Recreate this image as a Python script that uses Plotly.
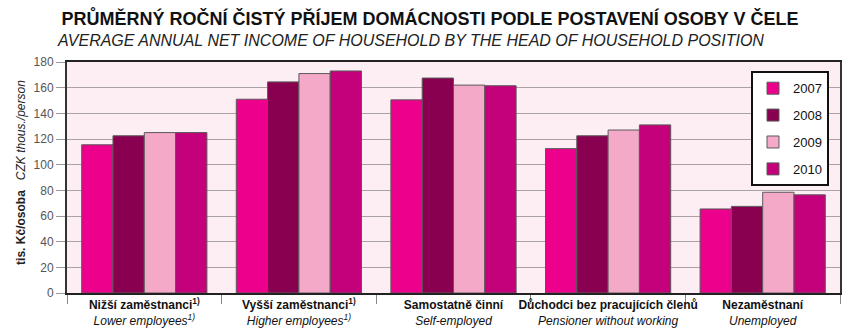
import plotly.graph_objects as go

categories_cz = ["Nižší zaměstnanci<sup>1)</sup>", "Vyšší zaměstnanci<sup>1)</sup>", "Samostatně činní",
                 "Důchodci bez pracujících členů", "Nezaměstnaní"]
categories_en = ["Lower employees<sup>1)</sup>", "Higher employees<sup>1)</sup>", "Self-employed",
                 "Pensioner without working", "Unemployed"]
years = ["2007", "2008", "2009", "2010"]
v2007 = [115.5, 151, 150.5, 112.5, 65.5]
v2008 = [122.5, 164.5, 167.5, 122.5, 67.5]
v2009 = [125, 171, 162, 127, 78.5]
v2010 = [125, 173, 161.5, 131, 76.5]
colors = ["#ec008c", "#8a0050", "#f5a9c9", "#c4007a"]
y_ticks = [0, 20, 40, 60, 80, 100, 120, 140, 160, 180]

cats = [f"c{i}" for i in range(len(categories_cz))]
ticktext = [f"<b>{cz}</b><br><i>{en}</i>" for cz, en in zip(categories_cz, categories_en)]

fig = go.Figure()
for yr, vals, col in zip(years, [v2007, v2008, v2009, v2010], colors):
    fig.add_trace(go.Bar(x=cats, y=vals, name=yr, legendgroup=yr,
                         marker=dict(color=col, line=dict(color="#5a5a5a", width=1))))

fig.update_layout(
    width=850, height=336,
    margin=dict(l=67, r=10, t=62, b=43, autoexpand=False),
    paper_bgcolor="white", plot_bgcolor="#fdeef4",
    barmode="group", bargap=0.19, bargroupgap=0,
    font=dict(family="Liberation Sans, Arial, sans-serif", color="#222"),
    title=dict(text="<b>PRŮMĚRNÝ ROČNÍ ČISTÝ PŘÍJEM DOMÁCNOSTI PODLE POSTAVENÍ OSOBY V ČELE</b>",
               x=430 / 850, xanchor="center", xref="container", y=1 - 19 / 336, yanchor="middle",
               font=dict(family="Liberation Sans Narrow, Liberation Sans, sans-serif", size=18, color="#111")),
    legend=dict(x=(751 - 67) / (840 - 67), xanchor="left", y=0.96, yanchor="top",
                bgcolor="white", bordercolor="#111", borderwidth=2,
                font=dict(size=13, color="#111"), traceorder="grouped", tracegroupgap=7),
    showlegend=True,
)
fig.add_annotation(text="<i>AVERAGE ANNUAL NET INCOME OF HOUSEHOLD BY THE HEAD OF HOUSEHOLD POSITION</i>",
                   xref="paper", yref="paper", x=(410 - 67) / (840 - 67), y=1.0, yshift=22,
                   xanchor="center", yanchor="middle", showarrow=False,
                   font=dict(family="Liberation Sans Narrow, Liberation Sans, sans-serif", size=16, color="#222"))
fig.add_annotation(text="<b>tis. Kč/osoba</b>   <i>CZK thous./person</i>",
                   xref="paper", yref="paper", x=0, xshift=-46, y=0.52, textangle=-90,
                   xanchor="center", yanchor="middle", showarrow=False,
                   font=dict(size=12, color="#222"))

fig.update_xaxes(tickvals=cats, ticktext=ticktext, tickson="boundaries", ticks="outside",
                 ticklen=9, tickcolor="#888", tickwidth=1, tickangle=0, automargin=False,
                 showline=True, linecolor="#222", linewidth=2, mirror=True,
                 tickfont=dict(size=12, color="#111"))
fig.update_yaxes(range=[0, 180], tickvals=y_ticks, ticks="outside", ticklen=9, tickcolor="#999",
                 showgrid=True, gridcolor="#a9a3a6", gridwidth=1, automargin=False,
                 showline=True, linecolor="#333", linewidth=2, mirror=True,
                 tickfont=dict(size=12, color="#555"), zeroline=False)

fig.write_html("out.html")
